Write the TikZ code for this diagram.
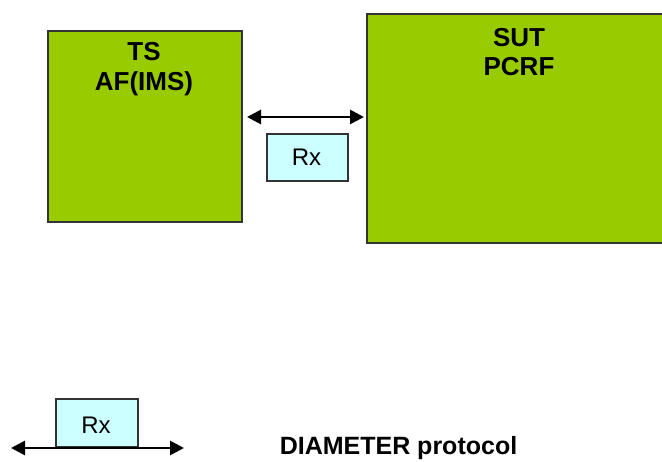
\documentclass[tikz,border=0pt]{standalone}
\usepackage{fontspec}
\setmainfont{Liberation Sans}
\usetikzlibrary{arrows.meta}
\definecolor{boxgreen}{HTML}{99CC00}
\definecolor{rxcyan}{HTML}{CCFFFF}
\definecolor{edge}{HTML}{333333}
\tikzset{
  greenbox/.style={draw=edge, line width=2pt, fill=boxgreen, anchor=north west, inner sep=0pt},
  rxbox/.style={draw=edge, line width=1.6pt, fill=rxcyan, anchor=north west, inner sep=0pt, minimum width=81pt, minimum height=47pt},
  boxtext/.style={anchor=base, inner sep=0pt, font=\fontsize{26}{30}\selectfont\bfseries},
  rxtext/.style={anchor=base, inner sep=0pt, font=\fontsize{24}{28}\selectfont},
  arr/.style={line width=2.8pt, black, {Triangle[length=14pt,width=14pt]}-{Triangle[length=14pt,width=14pt]}},
}
\begin{document}
\begin{tikzpicture}[x=1pt,y=-1pt]
\useasboundingbox (0,0) rectangle (662,462);
\node[greenbox, minimum width=194pt, minimum height=191pt] (ts) at (47,30) {};
\node[greenbox, minimum width=306pt, minimum height=229pt] (sut) at (366,13) {};
\node[boxtext] (tsl1) at (144,61) {TS};
\node[boxtext] (tsl2) at (144,91) {AF(IMS)};
\node[boxtext] (sutl1) at (519,47) {SUT};
\node[boxtext] (sutl2) at (519,76) {PCRF};
\node[rxbox] (rx1) at (266,133) {};
\node[rxtext] (rx1t) at (306.5,166) {Rx};
\coordinate (ay) at (0,117);
\draw[arr, shorten <=4pt, shorten >=2pt] (ts.east |- ay) -- (sut.west |- ay);
% legend
\node[rxbox, minimum width=82pt, minimum height=48pt] (rx2) at (55,398) {};
\node[rxtext] (rx2t) at (96,434) {Rx};
\coordinate (l1) at (11,448);
\coordinate (l2) at (184,448);
\draw[arr] (l1) -- (l2);
\node[anchor=base, inner sep=0pt, font=\fontsize{25}{30}\selectfont\bfseries] (diam) at (398.5,455) {DIAMETER protocol};
\end{tikzpicture}
\end{document}
